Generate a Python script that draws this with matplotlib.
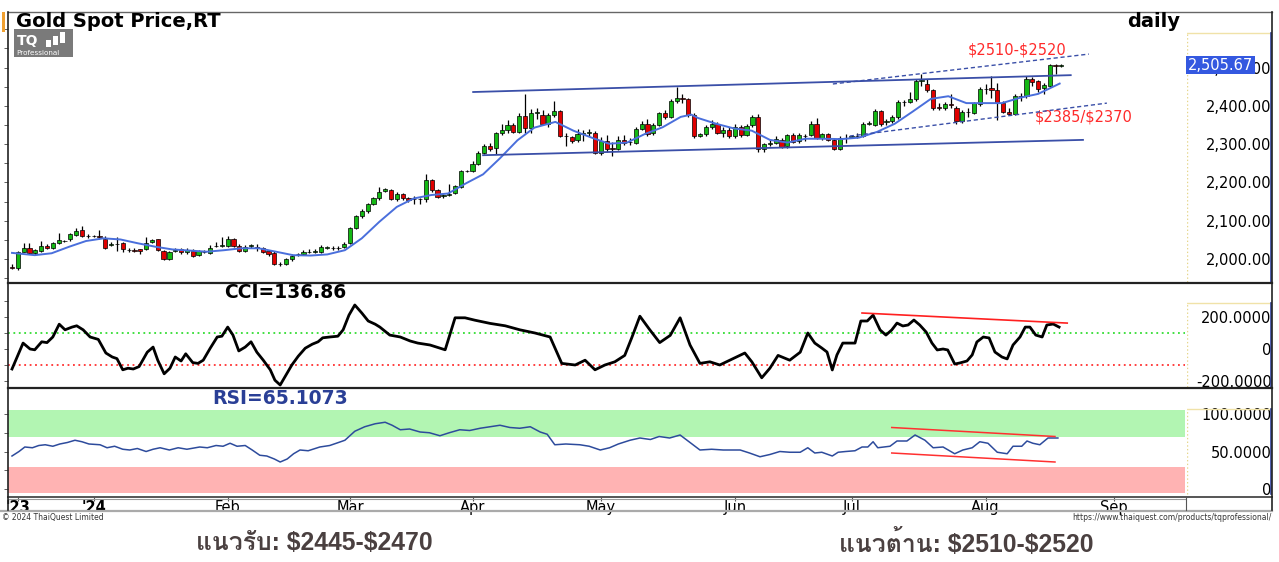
import numpy as np
import pandas as pd
import matplotlib
matplotlib.use('Agg')
import matplotlib.pyplot as plt
from matplotlib import font_manager, ft2font
from matplotlib.lines import Line2D
from matplotlib.patches import Rectangle

plt.rcParams['font.family'] = ['DejaVu Sans']

# ---- data ----
dates = pd.bdate_range('2023-12-12', '2024-08-20')   # 181 candles
opens = [1980, 1976, 2019, 2029, 2016, 2022, 2035, 2030, 2043, 2048,
         2051, 2063, 2075, 2061, 2060, 2060, 2053, 2036, 2040, 2041,
         2023, 2023, 2025, 2026, 2045, 2051, 2021, 2001, 2021, 2025,
         2017, 2022, 2010, 2019, 2016, 2034, 2035, 2035, 2051, 2034,
         2022, 2035, 2031, 2028, 2021, 2016, 1988, 1987, 1999, 2012,
         2014, 2018, 2019, 2019, 2030, 2029, 2028, 2032, 2041, 2080,
         2112, 2125, 2143, 2158, 2178, 2180, 2157, 2169, 2158, 2156,
         2157, 2156, 2206, 2180, 2165, 2168, 2173, 2189, 2230, 2230,
         2249, 2277, 2296, 2289, 2328, 2336, 2350, 2332, 2373, 2343,
         2381, 2377, 2353, 2376, 2386, 2320, 2318, 2311, 2327, 2330,
         2329, 2277, 2308, 2289, 2288, 2312, 2305, 2304, 2340, 2353,
         2328, 2351, 2380, 2371, 2412, 2420, 2418, 2376, 2320, 2326,
         2344, 2353, 2330, 2336, 2320, 2345, 2324, 2350, 2371, 2286,
         2301, 2304, 2312, 2295, 2323, 2308, 2322, 2323, 2353, 2317,
         2326, 2311, 2288, 2317, 2319, 2321, 2322, 2353, 2350, 2386,
         2357, 2360, 2370, 2411, 2411, 2417, 2466, 2458, 2440, 2396,
         2394, 2404, 2393, 2360, 2384, 2382, 2405, 2443, 2446, 2440,
         2407, 2385, 2378, 2425, 2425, 2470, 2464, 2446, 2452, 2506, 2504]
highs = [1986, 2021, 2043, 2042, 2026, 2046, 2040, 2044, 2067, 2050,
         2067, 2082, 2086, 2066, 2063, 2075, 2060, 2044, 2058, 2044,
         2029, 2028, 2027, 2057, 2052, 2053, 2024, 2020, 2030, 2029,
         2030, 2025, 2024, 2023, 2036, 2045, 2058, 2061, 2054, 2038,
         2036, 2040, 2040, 2032, 2023, 2020, 1993, 2003, 2012, 2016,
         2024, 2026, 2027, 2036, 2035, 2035, 2033, 2045, 2083, 2115,
         2130, 2147, 2162, 2188, 2186, 2184, 2175, 2173, 2162, 2164,
         2160, 2221, 2210, 2183, 2171, 2197, 2193, 2233, 2232, 2255,
         2281, 2300, 2302, 2331, 2353, 2362, 2355, 2380, 2431, 2392,
         2395, 2388, 2380, 2412, 2390, 2330, 2322, 2340, 2338, 2340,
         2333, 2318, 2325, 2305, 2320, 2325, 2315, 2345, 2360, 2365,
         2355, 2385, 2390, 2418, 2450, 2430, 2420, 2380, 2330, 2350,
         2362, 2358, 2345, 2345, 2352, 2350, 2352, 2377, 2378, 2303,
         2310, 2320, 2316, 2326, 2330, 2328, 2326, 2360, 2367, 2330,
         2330, 2316, 2322, 2326, 2325, 2330, 2358, 2360, 2392, 2390,
         2365, 2375, 2415, 2415, 2435, 2470, 2483, 2470, 2445, 2407,
         2410, 2430, 2400, 2390, 2393, 2410, 2450, 2457, 2479, 2460,
         2412, 2393, 2430, 2434, 2477, 2475, 2468, 2460, 2509, 2510, 2508]
lows = [1973, 1972, 2017, 2012, 2011, 2018, 2026, 2027, 2040, 2045,
        2048, 2060, 2058, 2056, 2057, 2053, 2025, 2034, 2021, 2017,
        2018, 2017, 2013, 2024, 2042, 2020, 1997, 1998, 2018, 2014,
        2013, 2006, 2007, 2016, 2014, 2031, 2032, 2032, 2031, 2018,
        2018, 2030, 2022, 2016, 2008, 1985, 1982, 1984, 1996, 2009,
        2011, 2015, 2016, 2015, 2026, 2024, 2024, 2029, 2038, 2078,
        2107, 2120, 2140, 2155, 2174, 2153, 2152, 2154, 2150, 2143,
        2143, 2150, 2176, 2159, 2160, 2164, 2170, 2185, 2226, 2226,
        2245, 2275, 2283, 2273, 2325, 2330, 2329, 2328, 2330, 2330,
        2365, 2350, 2345, 2370, 2318, 2295, 2303, 2305, 2308, 2320,
        2275, 2272, 2280, 2270, 2285, 2298, 2298, 2300, 2337, 2322,
        2324, 2348, 2366, 2368, 2408, 2407, 2372, 2317, 2318, 2322,
        2340, 2326, 2318, 2316, 2316, 2318, 2320, 2345, 2280, 2280,
        2296, 2300, 2290, 2290, 2302, 2304, 2308, 2320, 2314, 2312,
        2308, 2285, 2285, 2303, 2315, 2316, 2318, 2350, 2348, 2347,
        2350, 2356, 2366, 2400, 2408, 2412, 2452, 2435, 2390, 2390,
        2390, 2395, 2352, 2355, 2371, 2378, 2400, 2432, 2420, 2362,
        2382, 2375, 2375, 2413, 2420, 2452, 2437, 2430, 2448, 2484, 2502]
closes = [1976, 2019, 2029, 2015, 2023, 2035, 2030, 2041, 2049, 2048,
          2064, 2074, 2061, 2061, 2060, 2058, 2028, 2039, 2038, 2025,
          2023, 2022, 2021, 2043, 2049, 2023, 2000, 2017, 2023, 2017,
          2023, 2009, 2021, 2019, 2029, 2035, 2036, 2051, 2034, 2021,
          2032, 2036, 2030, 2019, 2013, 1988, 1987, 2000, 2008, 2013,
          2019, 2019, 2020, 2032, 2031, 2028, 2029, 2038, 2080, 2112,
          2125, 2143, 2158, 2174, 2182, 2156, 2171, 2158, 2154, 2157,
          2156, 2206, 2180, 2163, 2167, 2169, 2190, 2230, 2229, 2249,
          2277, 2296, 2287, 2328, 2336, 2350, 2332, 2373, 2343, 2380,
          2383, 2353, 2376, 2386, 2320, 2321, 2309, 2326, 2329, 2331,
          2277, 2308, 2287, 2288, 2312, 2303, 2306, 2340, 2353, 2326,
          2351, 2380, 2371, 2412, 2421, 2419, 2376, 2320, 2326, 2344,
          2353, 2330, 2336, 2320, 2345, 2324, 2348, 2371, 2286, 2299,
          2303, 2314, 2293, 2323, 2306, 2324, 2320, 2353, 2317, 2326,
          2311, 2288, 2317, 2317, 2320, 2322, 2353, 2354, 2386, 2352,
          2360, 2371, 2411, 2410, 2418, 2466, 2467, 2440, 2395, 2395,
          2404, 2403, 2360, 2383, 2383, 2407, 2443, 2444, 2442, 2407,
          2385, 2378, 2425, 2426, 2470, 2461, 2443, 2455, 2506, 2504, 2505.67]

# moving average (blue line), sampled along the chart
ma_x = [0, 3.9, 6.8, 9.8, 12.7, 15.7, 18.6, 21.6, 24.6, 27.5, 30.5, 33.4, 36.4, 39.3,
        42.3, 45.3, 48.2, 51.2, 54.1, 57.1, 60, 63, 66, 68.9, 71.9, 74.8, 77.8, 80.8,
        83.7, 86.7, 89.6, 93.2, 96.3, 99.4, 102.4, 105.5, 108.5, 111.6, 114.7, 116.5,
        117.7, 120.8, 123.8, 126.9, 130, 133, 136.1, 139.2, 142.2, 145.3, 148.4, 151.4,
        154.5, 157.6, 160.6, 163.7, 166.8, 169.8, 172.9, 176, 179.7]
ma_y = [2016, 2010, 2015, 2032, 2047, 2054, 2051, 2041, 2032, 2025, 2022, 2019, 2023, 2028,
        2028, 2019, 2010, 2009, 2012, 2023, 2054, 2097, 2136, 2158, 2167, 2171, 2197, 2221,
        2263, 2310, 2343, 2358, 2335, 2317, 2301, 2304, 2326, 2344, 2371, 2377,
        2368, 2353, 2341, 2335, 2311, 2304, 2314, 2314, 2313, 2317, 2332, 2353,
        2385, 2418, 2425, 2407, 2407, 2407, 2421, 2431, 2458]

cci_x = [0, 1.9, 3.1, 3.9, 5.1, 6, 7, 8.1, 9.1, 10.3, 11.1, 12.2, 13.4, 14.8, 16.1, 17.2,
         18, 19, 19.9, 20.8, 21.8, 23.2, 24.2, 25, 26.1, 27.1, 28, 29, 29.8, 31, 31.9, 32.8,
         34, 35.2, 36, 37, 37.9, 38.9, 40, 41, 42, 43.1, 44.3, 45.1, 46, 46.8, 48, 49.1,
         50.3, 51.5, 52.5, 53.3, 54.5, 55.9, 56.8, 57.8, 58.8, 60, 61.1, 62.3, 63.1, 64.8,
         66.6, 68.3, 69.6, 71.7, 74.3, 76, 77.7, 79.4, 82, 84.6, 87.1, 89.7, 92.3, 94.3,
         96.6, 98.3, 100, 101.7, 103.4, 105.1, 106.3, 107.7, 109.4, 111.1, 112.9, 114.6,
         116.3, 118, 119.7, 121.4, 124, 125.7, 126.9, 128.6, 130, 131.4, 133.4, 135.2,
         136.5, 137.7, 138.9, 139.8, 140.7, 141.5, 142.5, 143.7, 144.6, 145.6, 146.7, 147.7,
         148.9, 149.9, 150.9, 151.8, 152.8, 153.7, 154.7, 155.7, 156.8, 157.8, 158.7, 159.7,
         160.5, 161.7, 162.6, 163.8, 164.7, 165.5, 166.6, 167.6, 168.6, 169.8, 170.7, 171.7,
         172.9, 173.8, 174.6, 175.6, 176.7, 177.5, 178.6, 179.6]
cci_y = [-125, 37, 0, -5, 45, 40, 75, 155, 120, 137, 145, 120, 75, 60, -25, -50,
         -60, -130, -120, -125, -110, -20, 12, -70, -155, -120, -50, -75, -30, -85, -90, -70,
         5, 75, 80, 137, 87, -12, 12, 45, -20, -70, -130, -195, -225, -175, -100, -45,
         5, 30, 45, 70, 75, 80, 120, 212, 275, 225, 175, 155, 137, 87,
         75, 50, 37, 25, -5, 195, 195, 180, 160, 145, 120, 100, 75, -90,
         -100, -70, -130, -100, -80, -40, 70, 205, 120, 40, 85, 195,
         25, -90, -80, -100, -55, -25, -80, -180, -120, -40, -70, -20,
         100, 37, 6, -19, -131, -37, 37, 37, 37, 175, 175, 212,
         119, 87, 119, 162, 144, 150, 181, 150, 106, 37, -6, 0,
         -6, -94, -87, -75, -37, 44, 75, 69, -19, -50, -62, 25,
         75, 137, 137, 87, 75, 150, 156, 137]

rsi_x = [0, 1.2, 2.2, 3.5, 4.6, 5.7, 7, 8.2, 9.5, 10.8, 12, 13.2, 15.1, 16.3, 17.6, 19, 20.2,
         21.5, 23, 24.2, 25.4, 27, 28.5, 30, 32.2, 33.5, 35, 36.2, 37.4, 38.6, 40, 41.2,
         42.5, 43.7, 45, 46, 47.2, 48.3, 49.4, 50.8, 52.8, 54.5, 56, 57.1,
         58.8, 60.5, 62.3, 64, 65.2, 66.6, 68.2, 70, 71.6, 73.4, 75, 76.8, 78.5, 80.3, 82,
         83.7, 85.4, 87.1, 88.9, 90.6, 91.8, 93.1, 95, 97.4, 99, 100.9,
         102.5, 104, 106, 107.7, 109.5, 111, 112.8, 114.6, 116.3, 118, 120, 122, 124.9,
         126.5, 128.3, 130, 131.7, 133.4, 135.2, 136.5, 137.7, 138.9, 140.7,
         141.7, 143, 144.6, 145.8, 146.8, 147.7, 148.5, 150.6, 151.8, 153.5, 154.9, 156.6, 158,
         159.7, 161.7, 163.1, 164.7, 166, 167.4, 169, 170.7, 171.7, 173.2, 174.1, 175.1,
         176.3, 177.7, 179.4]
rsi_y = [44, 50, 56, 55, 58, 59, 57, 60, 62, 65, 63, 60, 59, 55, 57, 53, 52,
         54, 50, 53, 55, 52, 55, 53, 56, 55, 58, 57, 61, 57, 58, 52,
         45, 44, 40, 36, 40, 47, 52, 51, 56, 58, 62, 65,
         77, 83, 87, 89, 85, 79, 80, 76, 75, 71, 75, 79, 78, 81, 83,
         85, 82, 81, 83, 76, 73, 59, 60, 59, 57, 52,
         55, 60, 65, 68, 66, 70, 68, 72, 62, 52, 53, 52, 52,
         48, 43, 46, 50, 49, 49, 55, 48, 49, 44,
         49, 50, 51, 56, 56, 63, 55, 57, 64, 64, 72, 65, 55,
         56, 47, 52, 55, 63, 61, 49, 47, 57, 57, 64, 61,
         59, 68, 68]

# hand-drawn trend lines: (x0, x1), (y0, y1)
chan_top = ((79.1, 181.6), (2436, 2480))
chan_bot = ((80.8, 183.7), (2271, 2311))
dash_top = ((140.8, 184.7), (2457, 2535))
dash_bot = ((143.7, 187.8), (2321, 2407))
cci_trend = ((145.8, 181.0), (225, 162))
rsi_trend_hi = ((150.9, 178.9), (82, 70))
rsi_trend_lo = ((150.9, 178.9), (48, 36))

last_price = 2505.67
cci_last = 136.86
rsi_last = 65.1073

# month ticks
month_pos = [1]
month_lbl = ["'23"]
full_days = pd.bdate_range('2023-12-12', '2024-09-30')
prev = None
for i, d in enumerate(full_days):
    if prev is not None and d.month != prev:
        month_pos.append(i)
        month_lbl.append("'24" if d.month == 1 else d.strftime('%b'))
    prev = d.month

# ---- pixel helpers ----
W, H = 1279, 562
def box(l, t, r, b):
    return [l / W, 1 - b / H, (r - l) / W, (b - t) / H]
def price_at(y): return 2000 + (259 - y) / 0.383
def cci_at(y): return (349 - y) / 0.16
def rsi_at(y): return (489 - y) / 0.75

def find_thai():
    for f in font_manager.fontManager.ttflist:
        try:
            cmap = ft2font.FT2Font(f.fname).get_charmap()
        except Exception:
            continue
        if 0x0E23 in cmap and 0x0E49 in cmap and 0x0E41 in cmap:
            return f.name
    return 'DejaVu Sans'
thai_font = find_thai()

def bare(a, yt):
    # panel with only small outward ticks on the left edge
    a.set_xticks([])
    a.set_yticks(yt)
    a.tick_params(axis='y', direction='out', length=3, width=0.6, color='#444444', labelleft=False)
    for s in a.spines.values():
        s.set_visible(False)
    a.patch.set_alpha(0)

fig = plt.figure(figsize=(W / 100, H / 100), dpi=100)
fig.patch.set_facecolor('white')

xl = ((8 - 12) / 5.83, (1185 - 12) / 5.83)
idx = np.arange(len(closes))
o = np.array(opens); c = np.array(closes)

# ---- price panel ----
ax = fig.add_axes(box(8, 12, 1185, 282))
ax.set_xlim(*xl)
ax.set_ylim(price_at(282), price_at(12))
up = c >= o
ax.vlines(idx, lows, highs, color='black', lw=0.9, zorder=2)
ax.bar(idx[up], (c - o)[up], bottom=o[up], width=0.72, color='#14b814', edgecolor='black', lw=0.5, zorder=3)
ax.bar(idx[~up], (c - o)[~up], bottom=o[~up], width=0.72, color='#e00000', edgecolor='black', lw=0.5, zorder=3)
ax.plot(ma_x, ma_y, color='#4a6fdc', lw=1.4, zorder=4)
for (xs, ys) in (chan_top, chan_bot):
    ax.plot(xs, ys, color='#3a4fa8', lw=1.3, zorder=4)
for (xs, ys) in (dash_top, dash_bot):
    ax.plot(xs, ys, color='#3a4fa8', lw=1.0, ls=(0, (3, 2)), zorder=4)
ax.text(164, price_at(50), '$2510-$2520', color='#ff2a2a', fontsize=10.5, va='center', ha='left',
        parse_math=False)
ax.text(175.5, price_at(117), '$2385/$2370', color='#ff2a2a', fontsize=10.5, va='center', ha='left',
        parse_math=False)
bare(ax, np.arange(1950, 2650, 50))

# price label strip
axs = fig.add_axes(box(1187, 12, 1272, 282))
axs.set_ylim(price_at(282), price_at(12))
axs.set_xlim(0, 1)
pt = [2000, 2100, 2200, 2300, 2400, 2500]
axs.set_yticks(pt)
axs.set_yticklabels(['{:,.2f}'.format(v) for v in pt])
axs.tick_params(axis='y', length=0, pad=-61, labelsize=10.5)
axs.set_xticks([])
axs.plot([0, 0], [price_at(282), price_at(33)], color='#e6d68a', lw=1, ls=':')
axs.plot([0, 1], [price_at(33), price_at(33)], color='#f0e2a8', lw=1)
axs.plot([0.985, 0.985], [price_at(282), price_at(33)], color='#3040a0', lw=1.2)
for s in axs.spines.values():
    s.set_visible(False)
axs.text(0.01, last_price, '{:,.2f}'.format(last_price), color='white', fontsize=10.5,
         va='center', ha='left', bbox=dict(boxstyle='square,pad=0.1', fc='#3458e0', ec='none'), zorder=5)

# ---- CCI panel ----
axc = fig.add_axes(box(8, 283, 1185, 387))
axc.set_xlim(*xl)
axc.set_ylim(cci_at(387), cci_at(283))
axc.axhline(100, color='#33dd33', lw=1.3, ls=(0, (1, 2)))
axc.axhline(-100, color='#ff3030', lw=1.3, ls=(0, (1, 2)))
axc.plot(cci_x, cci_y, color='black', lw=2)
axc.plot(*cci_trend, color='#ff2020', lw=1.2)
axc.text(46.8, cci_at(293), 'CCI={:.2f}'.format(cci_last), fontsize=13.5, fontweight='bold', ha='center', va='center')
bare(axc, np.arange(-200, 400, 100))

axcs = fig.add_axes(box(1187, 283, 1272, 387))
axcs.set_ylim(cci_at(387), cci_at(283))
axcs.set_xlim(0, 1)
axcs.set_yticks([200, 0, -200])
axcs.set_yticklabels(['200.0000', '0', '-200.0000'])
axcs.tick_params(axis='y', length=0, pad=-61, labelsize=10.5)
axcs.set_xticks([])
for s in axcs.spines.values():
    s.set_visible(False)
axcs.plot([0, 0], [cci_at(387), cci_at(303)], color='#e6d68a', lw=1, ls=':')
axcs.plot([0, 1], [cci_at(303), cci_at(303)], color='#f0e2a8', lw=1)
axcs.plot([0.985, 0.985], [cci_at(387), cci_at(303)], color='#3040a0', lw=1.2)

# ---- RSI panel ----
axr = fig.add_axes(box(8, 388, 1185, 496))
axr.set_xlim(*xl)
axr.set_ylim(rsi_at(496), rsi_at(388))
axr.axhspan(70, rsi_at(410), color='#b2f5b2', lw=0)
axr.axhspan(rsi_at(493), 30, color='#ffb3b3', lw=0)
axr.plot(rsi_x, rsi_y, color='#2d4b9c', lw=1.1)
axr.plot(*rsi_trend_hi, color='#ff3030', lw=1.1)
axr.plot(*rsi_trend_lo, color='#ff3030', lw=1.1)
axr.text(46, rsi_at(398), 'RSI={:.4f}'.format(rsi_last), color='#2a3f96', fontsize=13.5, fontweight='bold', ha='center', va='center')
bare(axr, np.arange(0, 125, 25))

axrs = fig.add_axes(box(1187, 388, 1272, 496))
axrs.set_ylim(rsi_at(496), rsi_at(388))
axrs.set_xlim(0, 1)
axrs.set_yticks([100, 50, 0])
axrs.set_yticklabels(['100.0000', '50.0000', '0'])
axrs.tick_params(axis='y', length=0, pad=-61, labelsize=10.5)
axrs.set_xticks([])
for s in axrs.spines.values():
    s.set_visible(False)
axrs.plot([0, 0], [rsi_at(494), rsi_at(409)], color='#e6d68a', lw=1, ls=':')
axrs.plot([0, 1], [rsi_at(409), rsi_at(409)], color='#f0e2a8', lw=1)
axrs.plot([0.985, 0.985], [rsi_at(494), rsi_at(409)], color='#3040a0', lw=1.2)

# ---- date axis ----
axx = fig.add_axes(box(8, 497, 1185, 510))
axx.set_xlim(*xl)
axx.set_yticks([])
axx.xaxis.tick_top()
axx.set_xticks(month_pos)
axx.set_xticklabels(month_lbl)
axx.tick_params(axis='x', direction='in', length=3, pad=-13.2, labelsize=10.5, color='#555555')
for lab in axx.get_xticklabels():
    if lab.get_text().startswith("'"):
        lab.set_fontweight('bold')
for s in axx.spines.values():
    s.set_visible(False)

# ---- frame ----
def hline(y, x0, x1, color='black', lw=1.0):
    fig.add_artist(Line2D([x0 / W, x1 / W], [1 - y / H, 1 - y / H], color=color, lw=lw))
def vline(x, y0, y1, color='black', lw=1.0):
    fig.add_artist(Line2D([x / W, x / W], [1 - y0 / H, 1 - y1 / H], color=color, lw=lw))
hline(12, 8, 1272, '#666666', 1.0)
hline(282.5, 8, 1272, '#222222', 1.6)
hline(387.5, 8, 1272, '#222222', 1.6)
hline(496.5, 8, 1272, '#555555', 1.4)
hline(498.5, 8, 1185, '#999999', 0.8)
hline(511, 0, 1272, '#aaaaaa', 1.6)
vline(8, 12, 510, '#222222', 1.2)
vline(1272, 12, 510, '#222222', 1.2)
vline(1186, 497, 510, '#555555', 0.8)
fig.add_artist(Rectangle((2 / W, 1 - 32 / H), 3 / W, 20 / H, color='#f0a030', lw=0))

# title, logo
fig.text(16 / W, 1 - 21.5 / H, 'Gold Spot Price,RT', fontsize=14, fontweight='bold', va='center')
fig.text(1180 / W, 1 - 21.5 / H, 'daily', fontsize=14, fontweight='bold', va='center', ha='right')
fig.add_artist(Rectangle((14 / W, 1 - 57 / H), 59 / W, 28 / H, color='#7a7a7a', lw=0))
fig.text(17 / W, 1 - 41 / H, 'TQ', color='white', fontsize=10, fontweight='bold', va='center')
for k in range(3):
    fig.add_artist(Rectangle(((46 + 7 * k) / W, 1 - (47 - 2 * k) / H), 5 / W, (7 + 2 * k) / H,
                             color='white', lw=0))
fig.text(16 / W, 1 - 52.5 / H, 'Professional', color='white', fontsize=5.2, va='center')

# footer
fig.text(2 / W, 1 - 517.5 / H, '\u00a9 2024 ThaiQuest Limited', fontsize=5.5, va='center', color='#333333')
fig.text(1272 / W, 1 - 517.5 / H, 'https://www.thaiquest.com/products/tqprofessional/', fontsize=5.5,
         va='center', ha='right', color='#333333')
fig.text(314 / W, 1 - 543 / H, 'แนวรับ: $2445-$2470', fontsize=17.8, color='#4a4040', fontweight='bold',
         ha='center', va='center', family=['Liberation Sans', thai_font, 'DejaVu Sans'], parse_math=False)
fig.text(966 / W, 1 - 543 / H, 'แนวต้าน: $2510-$2520', fontsize=17.8, color='#4a4040', fontweight='bold',
         ha='center', va='center', family=['Liberation Sans', thai_font, 'DejaVu Sans'], parse_math=False)

fig.savefig('out.png', dpi=100)
